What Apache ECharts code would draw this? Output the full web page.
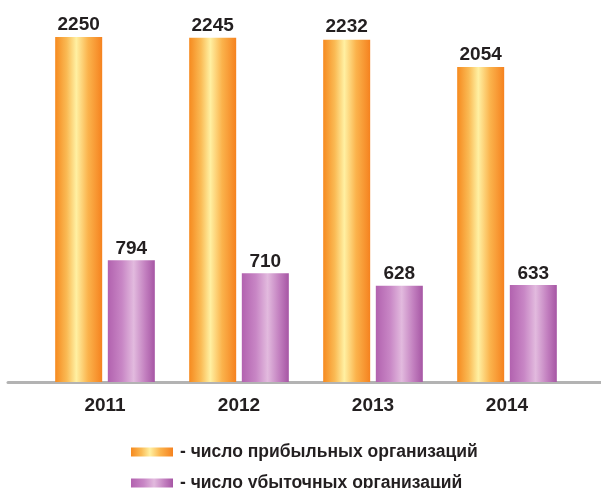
<!DOCTYPE html>
<html>
<head>
<meta charset="utf-8">
<script src="https://cdn.jsdelivr.net/npm/echarts@6/dist/echarts.min.js"></script>
<style>
  html, body { margin: 0; padding: 0; background: #fff; }
  #chart { width: 601px; height: 488px; }
</style>
</head>
<body>
<div id="chart"></div>
<script>
  // data
  var years = ['2011', '2012', '2013', '2014'];
  var profitable = [2250, 2245, 2232, 2054];
  var unprofitable = [794, 710, 628, 633];
  var seriesNames = ['число прибыльных организаций', 'число убыточных организаций'];

  var font = "'Liberation Sans', Arial, sans-serif";

  var orangeGrad = new echarts.graphic.LinearGradient(0, 0, 1, 0, [
    {offset: 0, color: '#f68a1f'},
    {offset: 0.25, color: '#fabb55'},
    {offset: 0.45, color: '#fff0a2'},
    {offset: 0.7, color: '#fbb34c'},
    {offset: 1, color: '#f5821f'}
  ]);
  var purpleGrad = new echarts.graphic.LinearGradient(0, 0, 1, 0, [
    {offset: 0, color: '#b262af'},
    {offset: 0.3, color: '#c886c5'},
    {offset: 0.55, color: '#e2bade'},
    {offset: 0.8, color: '#c27fbf'},
    {offset: 1, color: '#a656a4'}
  ]);

  var labelStyle = {
    show: true,
    position: 'top',
    distance: 3,
    color: '#231f20',
    fontSize: 19,
    fontWeight: 'bold',
    fontFamily: font
  };

  // one legend per row so they stack instead of wrapping
  function legendRow(name, top) {
    return {
      orient: 'horizontal',
      left: 126,
      top: top,
      icon: 'rect',
      itemWidth: 42,
      itemHeight: 9,
      formatter: function (n) { return '- ' + n; },
      textStyle: {color: '#231f20', fontSize: 17.5, fontWeight: 'bold', fontFamily: font, padding: [0, 0, 0, 2]},
      data: [name]
    };
  }

  var chart = echarts.init(document.getElementById('chart'));
  chart.setOption({
    animation: false,
    backgroundColor: '#fff',
    grid: [
      {left: 38, right: 27, top: 14, bottom: 106},
      // only used to draw the long base line
      {left: 8, right: 0, top: 14, bottom: 106}
    ],
    legend: [legendRow(seriesNames[0], 438), legendRow(seriesNames[1], 469)],
    xAxis: [
      {
        type: 'category',
        gridIndex: 0,
        data: years,
        axisLine: {show: false},
        axisTick: {show: false},
        axisLabel: {color: '#231f20', fontSize: 19, fontWeight: 'bold', fontFamily: font, margin: 14}
      },
      {
        type: 'value',
        gridIndex: 1,
        axisLine: {show: true, lineStyle: {color: '#b3b3b3', width: 3}},
        axisTick: {show: false},
        axisLabel: {show: false},
        splitLine: {show: false}
      }
    ],
    yAxis: [
      {type: 'value', gridIndex: 0, min: 0, max: 2400, show: false},
      {type: 'value', gridIndex: 1, show: false}
    ],
    series: [
      {
        name: seriesNames[0],
        type: 'bar',
        data: profitable,
        barWidth: 47,
        barGap: '12%',
        itemStyle: {color: orangeGrad},
        label: labelStyle
      },
      {
        name: seriesNames[1],
        type: 'bar',
        data: unprofitable,
        barWidth: 47,
        barGap: '12%',
        itemStyle: {color: purpleGrad},
        label: Object.assign({}, labelStyle, {distance: 2})
      }
    ]
  });
</script>
</body>
</html>
